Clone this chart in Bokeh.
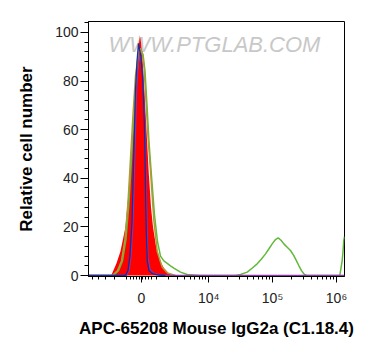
import numpy as np
from bokeh.plotting import figure
from bokeh.models import Range1d, FixedTicker, CustomJSTickFormatter
from bokeh.core.properties import value
from bokeh.embed import file_html
from bokeh.resources import INLINE

# ---------------- data (x in display "decade" units of the biexponential axis) -------------
red_x = [2.480, 2.5625, 2.625, 2.703, 2.770, 2.823, 2.870, 2.903, 2.927, 2.945, 2.966, 2.989,
         3.031, 3.067, 3.102, 3.133, 3.180, 3.242, 3.305, 3.375, 3.453]
red_y = [0, 5, 10, 20, 40, 60, 80, 92, 98.8, 96, 90, 80, 60, 42, 28, 20, 12, 6, 3, 1, 0]

blue_x = [2.125, 2.703, 2.742, 2.773, 2.805, 2.833, 2.859, 2.883, 2.906, 2.922, 2.945, 2.969,
          2.989, 3.005, 3.016, 3.028, 3.044, 3.070, 3.125, 3.219, 3.328]
blue_y = [0, 0, 2, 8, 22, 50, 76, 88, 95.5, 93, 90, 82, 70, 55, 35, 18, 6, 2, 0.8, 0.2, 0]

purple_x = [2.125, 2.719, 2.758, 2.789, 2.820, 2.848, 2.875, 2.898, 2.925, 2.945, 2.969, 2.992,
            3.0125, 3.027, 3.039, 3.055, 3.086, 3.141, 3.25, 3.375, 6.125]
purple_y = [0, 0, 2, 8, 22, 50, 75, 86, 91.5, 90, 84, 72, 55, 35, 18, 7, 2.5, 1, 0.3, 0, 0]

olive_x = [2.125, 2.5, 2.578, 2.641, 2.695, 2.742, 2.781, 2.820, 2.859, 2.898, 2.930, 2.961,
           2.992, 3.023, 3.055, 3.094, 3.145, 3.198, 3.277, 3.359, 3.484]
olive_y = [0, 0, 2, 6, 15, 30, 48, 66, 82, 90, 93.5, 92, 86, 72, 57, 43, 23, 10, 3.4, 1, 0]

green_x = [2.125, 2.516, 2.594, 2.656, 2.711, 2.758, 2.797, 2.836, 2.875, 2.914, 2.945, 2.977,
           3.008, 3.039, 3.070, 3.106, 3.156, 3.203, 3.25, 3.302, 3.355, 3.406, 3.458, 3.5625,
           3.667, 3.875, 4.422, 4.5, 4.605, 4.680, 4.761, 4.828, 4.891, 4.945, 4.995, 5.047,
           5.089, 5.133, 5.177, 5.234, 5.281, 5.333, 5.375, 5.411, 5.453, 5.489, 5.531, 6.052,
           6.070, 6.089, 6.102, 6.114, 6.125]
green_y = [0, 0, 2, 6, 15, 30, 48, 66, 82, 90, 92.5, 91, 84, 70, 55, 42, 25, 14, 8, 6, 5, 4, 3,
           1.4, 0.4, 0, 0, 0.4, 1.4, 3, 4.8, 6.8, 8.9, 11, 13, 14.8, 15.5, 14.5, 13, 11.5, 10.3,
           8.2, 6, 4.1, 2, 0.7, 0, 0, 3, 6.2, 10, 14.4, 16]

y_major = [0, 20, 40, 60, 80, 100]
y_minor = [v for v in range(0, 105, 4) if v not in y_major]

x_major_vals = [0, 1e4, 1e5, 1e6]
x_major_labels = ["0", "10\u2074", "10\u2075", "10\u2076"]
x_minor_vals = ([-5000, -4000, -3000, -2000, -1000, -700, -500, -300, -100,
                 100, 300, 500, 700, 1000]
                + [k * 1000 for k in range(2, 10)]
                + [k * 10000 for k in range(2, 10)]
                + [k * 100000 for k in range(2, 10)]
                + [2e6])

C = 891.0


def biex(v):
    v = np.asarray(v, dtype=float)
    return np.log10(C) + np.arcsinh(v / (2 * C)) / np.log(10)


FONT = "Liberation Sans"
W, H = 381, 360

p = figure(width=W, height=H, output_backend="svg", toolbar_location=None,
           x_range=Range1d(2.125, 6.125), y_range=Range1d(-0.41, 104.5),
           min_border_left=88, min_border_right=37, min_border_top=21, min_border_bottom=84)
p.grid.visible = False
p.outline_line_color = "black"
p.outline_line_width = 1
p.background_fill_color = "white"
p.border_fill_color = "white"

# watermark (behind curves)
p.text(x=[4.094], y=[95.0], text=["WWW.PTGLAB.COM"], text_align="center",
       text_baseline="middle", text_color="#c8c8c8", text_font=value(FONT),
       text_font_size="22px", text_font_style="italic")

# curves
p.varea(x=red_x, y1=0, y2=red_y, fill_color="#ff0000")
p.line(green_x, green_y, line_color="#62b83a", line_width=1.5)
p.line(olive_x, olive_y, line_color="#b09a3a", line_width=1.5)
p.line(purple_x, purple_y, line_color="#8a3aa8", line_width=1.3)
p.line(blue_x, blue_y, line_color="#1f2a9a", line_width=1.3)

# y axis
ya = p.yaxis[0]
ya.ticker = FixedTicker(ticks=y_major, minor_ticks=y_minor)
ya.axis_label = "Relative cell number"
ya.axis_label_text_font = FONT
ya.axis_label_text_font_size = "17px"
ya.axis_label_text_font_style = "bold"
ya.axis_label_text_color = "black"
ya.axis_label_standoff = 16
ya.major_label_text_font = FONT
ya.major_label_text_font_size = "14px"
ya.major_label_text_color = "#222222"
ya.major_label_standoff = 2
ya.major_tick_out = 8
ya.major_tick_in = 0
ya.minor_tick_out = 4
ya.minor_tick_in = 0
ya.axis_line_color = "black"

# x axis
major_pos = [float(t) for t in biex(x_major_vals)]
xa = p.xaxis[0]
xa.ticker = FixedTicker(ticks=major_pos, minor_ticks=list(biex(x_minor_vals)))
xa.formatter = CustomJSTickFormatter(
    args=dict(pos=major_pos, labels=x_major_labels),
    code="""
    let best = 0, bd = 1e9;
    for (let i = 0; i < pos.length; i++) {
        const d = Math.abs(pos[i] - tick);
        if (d < bd) { bd = d; best = i; }
    }
    return labels[best];
    """)
xa.major_label_text_font = FONT
xa.major_label_text_font_size = "14px"
xa.major_label_text_color = "#222222"
xa.major_label_standoff = 7
xa.axis_label = "APC-65208 Mouse IgG2a (C1.18.4)"
xa.axis_label_text_font = FONT
xa.axis_label_text_font_size = "17px"
xa.axis_label_text_font_style = "bold"
xa.axis_label_text_color = "black"
xa.axis_label_standoff = 10
xa.major_tick_out = 6
xa.major_tick_in = 0
xa.minor_tick_out = 3
xa.minor_tick_in = 0
xa.axis_line_color = "black"

open("out.html", "w").write(file_html(p, INLINE))
